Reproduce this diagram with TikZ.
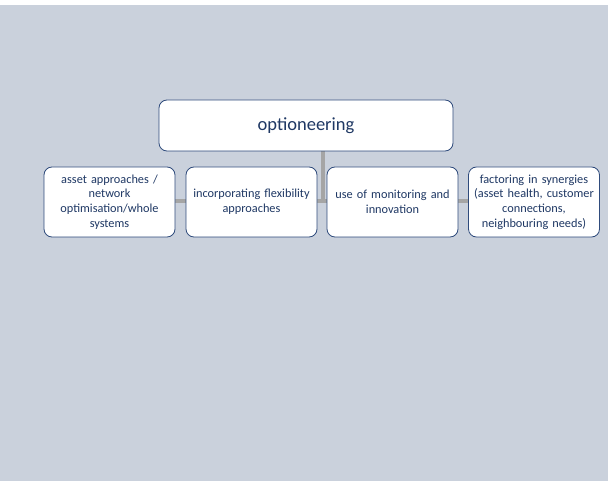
\documentclass[tikz,border=0pt]{standalone}
\usepackage{fontspec}
\setmainfont{Carlito}
\usepackage{xcolor}
\usetikzlibrary{positioning,calc,backgrounds}
\definecolor{bgblue}{HTML}{CAD1DC}
\definecolor{edgeblue}{HTML}{2F4B7C}
\definecolor{textblue}{HTML}{1F3864}
\definecolor{linkgrey}{HTML}{A5A5A5}
\tikzset{
  box/.style={draw=edgeblue,fill=white,rounded corners=8pt,line width=0.8pt,
    text=textblue,align=center,inner sep=1pt},
  topbox/.style={box,minimum width=294pt,minimum height=51pt,
    font=\fontsize{18.5}{22}\selectfont},
  smallbox/.style={box,minimum width=131pt,minimum height=70pt,text width=129pt,
    font=\fontsize{12.3}{14.6}\selectfont},
  link/.style={draw=linkgrey,line width=4pt}
}
\begin{document}
\begin{tikzpicture}[x=1pt,y=-1pt]
        \useasboundingbox (0,0) rectangle (608,481);

        % Top box
        \node[topbox] (opt) at (306,125.5) {optioneering};

        % Lower boxes
        \node[smallbox] (asset) at (109.5,202) {asset approaches /\\ network\\ optimisation/whole\\ systems};
        \node[smallbox] (flex) at (251.5,202) {incorporating flexibility\\ approaches};
        \node[smallbox] (mon) at (392.5,202) {use of monitoring and\\ innovation};
        \node[smallbox] (syn) at (534,202) {factoring in synergies\\ (asset health, customer\\ connections,\\ neighbouring needs)};

        % Background and links
        \coordinate (joint) at (323,201);
        \begin{scope}[on background layer]
        \fill[bgblue] (0,5) rectangle (608,481);
        \path[link] (opt.south -| joint) -- (joint);
        \path[link] (asset.east |- joint) -- (syn.west |- joint);
        \end{scope}
\end{tikzpicture}
\end{document}
